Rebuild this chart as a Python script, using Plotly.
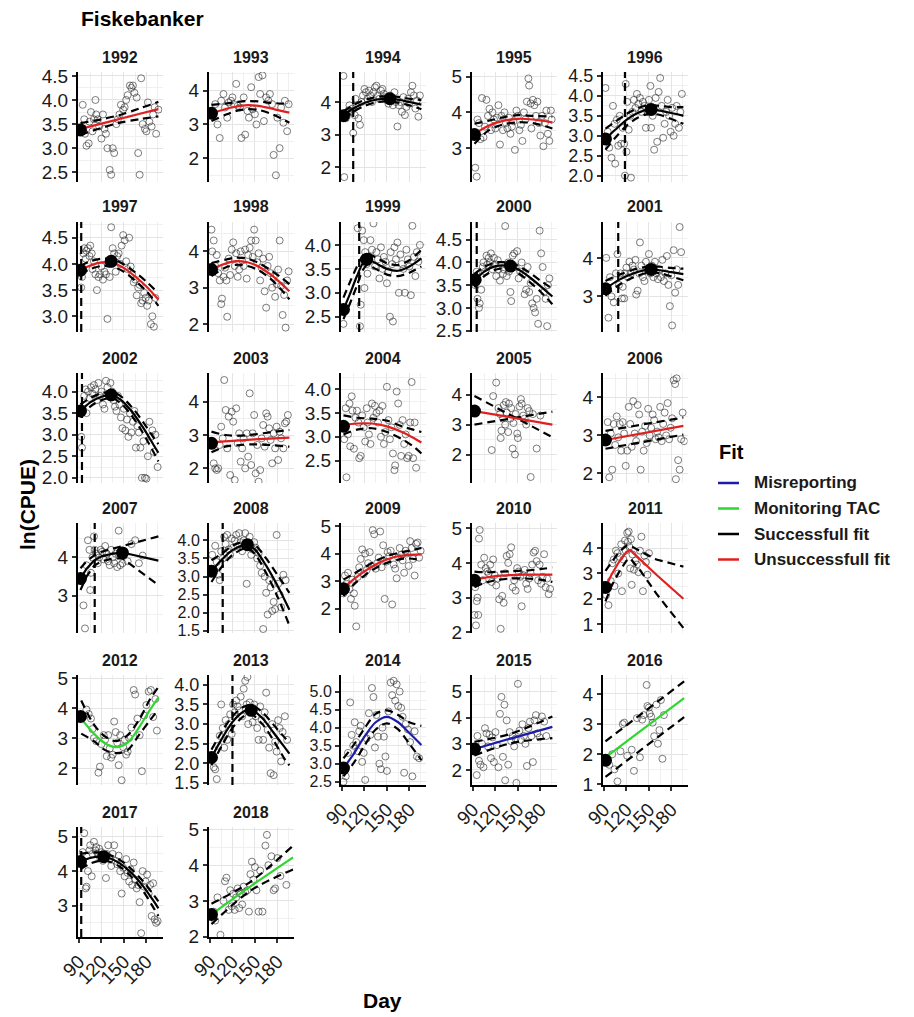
import math
import plotly.graph_objects as go

W, H = 914, 1017
FONT = "Liberation Sans, Arial, sans-serif"

# ---------------- data ----------------
years = list(range(1992, 2019))

fit_class = [
    "Unsuccessfull fit", "Unsuccessfull fit", "Successfull fit", "Unsuccessfull fit", "Successfull fit",
    "Unsuccessfull fit", "Unsuccessfull fit", "Successfull fit", "Successfull fit", "Successfull fit",
    "Successfull fit", "Unsuccessfull fit", "Unsuccessfull fit", "Unsuccessfull fit", "Unsuccessfull fit",
    "Successfull fit", "Successfull fit", "Unsuccessfull fit", "Unsuccessfull fit", "Unsuccessfull fit",
    "Monitoring TAC", "Successfull fit", "Misreporting", "Misreporting", "Monitoring TAC",
    "Successfull fit", "Monitoring TAC",
]

y_min = [2.30, 1.30, 1.55, 2.05, 1.84, 2.70, 1.78, 2.18, 2.47, 2.08, 1.88, 1.56, 2.03, 1.05, 1.75,
         2.03, 1.44, 1.11, 1.98, 0.65, 1.44, 1.45, 2.41, 1.42, 0.98, 2.09, 1.99]
y_max = [4.58, 4.55, 4.92, 5.13, 4.60, 4.80, 4.81, 4.48, 4.89, 4.93, 4.43, 4.86, 4.34, 4.72, 4.64,
         4.90, 4.48, 5.11, 5.15, 4.99, 5.10, 4.25, 5.46, 5.64, 4.63, 5.28, 5.07]
y_step = [0.5, 1, 1, 1, 0.5, 0.5, 1, 0.5, 0.5, 1, 0.5, 1, 0.5, 1, 1,
          1, 0.5, 1, 1, 1, 1, 0.5, 0.5, 1, 1, 1, 1]

# day of the vertical break line in a season
vline_day = {1994: 105, 1996: 118, 1997: 93, 1999: 113, 2000: 95, 2001: 109, 2002: 94,
             2007: 111, 2008: 107, 2013: 120, 2017: 93}

day_ticks = [90, 120, 150, 180]

fit_colors = {
    "Misreporting": "#1c1ca8",
    "Monitoring TAC": "#2ed62e",
    "Successfull fit": "#000000",
    "Unsuccessfull fit": "#e02020",
}
legend_order = ["Misreporting", "Monitoring TAC", "Successfull fit", "Unsuccessfull fit"]

# observations: (day, ln(CPUE))
pts_1992 = [(95,3.9),(97,3.6),(98,3.3),(100,3.05),(103,3.1),(104,3.55),(106,3.75),(108,3.35),(110,3.6),(112,4.0),
            (113,3.7),(115,3.6),(117,3.45),(120,3.2),(122,3.7),(124,3.4),(126,3.3),(128,3.0),(131,2.55),(133,2.45),
            (135,3.0),(137,2.9),(140,3.5),(142,3.6),(144,3.7),(146,3.9),(149,3.8),(151,3.85),(153,4.0),(155,4.1),
            (158,4.3),(160,4.25),(162,4.3),(164,4.15),(167,4.05),(169,2.9),(171,2.45),(173,4.45),(175,3.5),(178,3.4),
            (180,3.35),(182,3.95),(184,3.55),(187,3.45),(189,3.7),(191,3.85),(193,3.3),(196,3.8)]
pts_1993 = [(94,3.3),(97,3.6),(100,3.0),(103,2.6),(105,3.7),(108,3.9),(110,3.5),(113,3.2),(115,3.65),(118,3.7),
            (120,3.8),(122,3.6),(125,4.2),(127,3.55),(130,3.5),(132,2.6),(135,3.8),(137,2.7),(140,3.4),(142,3.2),
            (145,4.1),(147,3.45),(150,3.3),(152,3.0),(155,4.4),(157,3.9),(160,4.45),(162,3.1),(165,3.8),(168,3.7),
            (170,3.9),(173,3.6),(175,2.1),(178,1.5),(180,3.2),(183,2.3),(185,3.5),(188,3.05),(190,3.7),(193,2.8),(195,3.6)]
pts_1994 = [(92,4.8),(93,1.7),(95,3.5),(97,3.6),(99,3.75),(100,3.9),(102,3.7),(104,3.8),(105,3.05),(107,3.6),
            (108,4.1),(110,3.9),(112,3.5),(114,3.3),(116,4.0),(118,4.2),(120,4.4),(122,4.3),(124,4.1),(126,4.35),
            (128,4.2),(130,4.0),(132,4.3),(134,4.45),(136,4.5),(138,4.2),(140,4.1),(142,4.35),(144,4.4),(146,4.25),
            (148,4.15),(150,4.1),(152,3.95),(154,4.2),(156,4.05),(158,3.9),(160,4.3),(162,4.0),(164,3.25),(166,3.9),
            (168,4.0),(170,3.7),(172,4.15),(174,3.6),(176,3.85),(178,4.1),(180,3.95),(182,4.3),(184,4.5),(186,4.2),
            (188,3.8),(190,4.05),(192,3.55),(194,4.2)]
pts_1995 = [(93,2.45),(95,2.2),(96,3.8),(98,3.7),(100,3.25),(102,4.4),(104,3.3),(106,3.6),(108,4.35),(110,3.9),
            (112,4.1),(114,3.5),(116,4.0),(118,3.8),(120,3.55),(122,3.85),(124,4.2),(126,3.1),(128,3.9),(130,3.5),
            (132,4.0),(134,3.7),(136,3.55),(138,3.85),(140,3.4),(142,3.6),(144,3.75),(146,2.95),(148,4.05),(150,3.9),
            (152,3.5),(154,3.65),(156,3.2),(158,4.0),(160,3.8),(162,4.3),(164,4.95),(165,4.75),(167,4.25),(168,3.55),
            (170,4.35),(172,4.2),(174,3.9),(176,4.3),(178,3.7),(180,3.35),(182,3.9),(184,3.05),(186,3.7),(188,4.05),
            (190,3.4),(192,3.2),(194,4.05),(195,3.8)]
pts_1996 = [(92,4.2),(95,3.1),(97,2.7),(100,2.45),(102,3.75),(104,3.3),(105,2.3),(107,3.4),(109,2.75),(111,3.5),
            (113,2.8),(115,3.2),(117,2.8),(118,2.0),(119,4.3),(120,2.6),(121,3.85),(123,3.15),(125,3.5),(126,1.95),
            (128,3.6),(130,3.9),(132,3.7),(134,4.05),(136,3.8),(138,3.95),(140,3.6),(142,3.85),(144,3.75),(146,3.2),
            (148,3.6),(150,3.9),(152,4.25),(153,3.2),(155,3.5),(157,2.65),(159,3.95),(161,2.85),(163,4.1),(165,4.45),
            (167,3.75),(169,2.95),(171,3.3),(173,3.6),(175,3.9),(177,3.5),(179,3.1),(181,3.7),(183,3.0),(185,3.3),
            (187,3.75),(190,3.2),(192,3.6),(194,4.05)]
pts_1997 = [(93,3.55),(94,3.75),(96,4.2),(97,4.3),(99,4.1),(100,4.25),(102,4.3),(104,4.15),(105,4.35),(107,4.2),
            (108,3.9),(110,4.05),(112,3.8),(114,3.5),(116,3.75),(118,3.8),(120,3.95),(122,3.7),(124,3.85),(126,3.8),
            (128,2.95),(129,4.0),(131,3.75),(133,4.7),(135,4.3),(137,4.2),(139,3.85),(141,4.15),(143,4.2),(145,4.0),
            (147,4.35),(149,4.55),(151,4.45),(153,4.05),(155,3.9),(157,4.5),(159,3.95),(161,3.8),(163,3.65),(165,3.7),
            (167,3.4),(169,3.55),(171,3.6),(173,3.25),(175,3.3),(177,3.45),(179,3.35),(181,3.2),(183,3.3),(186,2.85),
            (188,3.0),(190,2.8),(192,3.35)]
pts_1998 = [(92,4.6),(93,4.0),(95,4.3),(97,3.6),(99,3.9),(101,3.4),(103,3.2),(105,2.55),(106,2.7),(108,3.3),
            (110,3.55),(112,3.2),(113,2.2),(115,3.8),(117,3.35),(119,4.05),(121,4.25),(123,3.6),(125,3.95),(127,3.3),
            (129,3.5),(131,4.0),(133,3.75),(135,3.6),(137,4.05),(139,3.25),(141,3.9),(143,4.1),(145,4.3),(147,3.85),
            (149,4.6),(151,4.3),(153,3.7),(155,3.95),(157,3.2),(159,3.55),(161,3.8),(163,2.9),(165,2.45),(167,3.6),
            (169,3.85),(171,3.4),(173,3.0),(175,3.3),(177,2.75),(179,3.1),(181,3.5),(183,4.3),(185,3.05),(187,2.25),
            (189,2.8),(191,1.9),(193,3.2),(195,3.45)]
pts_1999 = [(92,2.35),(111,4.35),(114,2.3),(115,2.75),(117,4.3),(119,4.1),(120,3.1),(121,3.85),(123,3.6),(124,3.4),
            (126,3.75),(128,4.1),(130,3.9),(132,4.45),(134,3.55),(136,3.85),(138,3.7),(140,3.3),(142,3.95),(144,3.5),
            (146,3.75),(148,3.65),(150,3.2),(152,3.45),(154,2.5),(155,3.85),(157,3.6),(158,2.4),(160,3.95),(162,3.7),
            (164,4.05),(166,3.0),(168,3.8),(170,3.6),(172,3.5),(174,3.0),(176,3.9),(178,3.7),(180,3.55),(182,2.95),
            (184,4.4),(186,3.75),(188,3.35),(190,3.85),(192,3.65),(194,4.0)]
pts_2000 = [(93,3.5),(95,3.8),(96,3.2),(98,3.0),(99,3.1),(101,3.4),(103,3.9),(104,4.0),(106,3.8),(108,4.15),
            (109,3.95),(111,4.1),(113,4.0),(114,4.2),(116,3.85),(118,4.1),(119,3.95),(121,3.7),(123,4.05),(124,3.85),
            (126,3.6),(128,3.95),(130,3.75),(131,3.85),(133,4.8),(135,3.7),(137,4.0),(138,3.8),(140,3.35),(141,3.15),
            (143,4.15),(145,4.2),(147,3.9),(149,4.25),(151,3.65),(153,3.8),(155,4.0),(157,3.75),(159,3.3),(161,3.4),
            (163,3.9),(165,3.35),(167,3.55),(169,3.1),(171,3.0),(173,2.9),(175,3.2),(177,2.65),(179,4.7),(181,4.2),
            (183,3.9),(185,3.35),(187,3.2),(189,2.6),(190,3.5),(192,3.65)]
pts_2001 = [(93,4.0),(96,2.45),(98,3.5),(100,3.0),(103,2.85),(106,3.6),(108,4.1),(110,3.3),(112,3.6),(114,2.95),
            (115,3.25),(117,2.95),(118,3.6),(120,3.75),(122,3.5),(124,3.9),(126,3.6),(128,3.8),(130,3.7),(132,3.95),
            (133,3.05),(135,3.15),(137,3.6),(138,4.4),(140,3.8),(142,3.5),(144,3.4),(146,3.9),(148,3.7),(150,4.1),
            (152,3.6),(154,3.8),(156,3.5),(158,3.9),(160,3.6),(162,3.45),(164,3.7),(166,3.5),(168,3.95),(170,3.4),
            (172,3.6),(174,4.05),(176,3.3),(178,2.75),(180,3.55),(181,2.25),(183,4.2),(185,3.1),(187,3.7),(189,3.3),
            (191,4.8),(193,4.15)]
pts_2002 = [(93,2.95),(94,2.7),(95,3.6),(97,3.9),(99,4.05),(100,3.5),(102,4.0),(104,3.85),(106,4.1),(108,3.95),
            (110,4.15),(112,4.05),(114,3.8),(116,4.2),(118,3.9),(120,4.0),(122,3.7),(124,3.6),(126,4.25),(128,4.1),
            (130,3.95),(132,4.2),(134,4.0),(136,3.8),(138,3.65),(140,3.55),(142,3.9),(144,3.7),(146,3.4),(148,3.15),
            (150,3.6),(152,3.1),(154,3.35),(156,2.95),(158,3.5),(160,3.05),(162,3.3),(164,3.55),(166,2.7),(168,3.2),
            (170,3.05),(172,2.7),(174,2.0),(176,2.85),(178,2.0),(180,1.98),(182,2.5),(184,3.3),(186,2.95),(188,3.1),
            (190,2.6),(192,3.0),(195,2.25)]
pts_2003 = [(95,2.15),(97,2.0),(99,1.95),(101,2.0),(103,2.7),(105,3.25),(107,2.9),(109,4.65),(111,3.75),(113,2.6),
            (115,3.55),(117,1.8),(119,3.7),(121,3.4),(123,1.65),(125,3.8),(127,2.75),(129,3.05),(131,2.2),(133,2.6),
            (135,2.9),(137,2.0),(139,3.05),(141,2.35),(143,4.25),(145,2.1),(147,3.05),(149,3.6),(151,1.85),(153,2.7),
            (155,1.6),(157,1.95),(159,2.9),(161,3.3),(163,2.65),(165,3.65),(167,3.55),(169,3.2),(171,2.85),(173,2.15),
            (175,3.05),(177,2.6),(179,3.25),(181,2.25),(183,3.1),(185,2.9),(188,2.6),(190,3.35),(192,3.4),(194,3.6)]
pts_2004 = [(93,2.95),(95,3.6),(96,2.15),(98,3.05),(100,3.7),(101,2.8),(103,3.85),(104,3.55),(106,2.75),(108,3.4),
            (110,3.55),(112,3.3),(113,2.55),(115,2.6),(117,3.45),(119,3.2),(121,2.9),(123,3.6),(124,3.3),(126,3.05),
            (128,2.85),(130,3.7),(132,3.4),(134,3.65),(136,3.5),(138,3.3),(140,3.55),(142,3.0),(144,3.65),(146,2.85),
            (148,3.1),(150,4.05),(152,3.35),(154,2.95),(156,3.2),(158,2.65),(160,2.3),(161,2.4),(163,3.95),(165,3.7),
            (167,3.25),(169,2.6),(171,3.35),(173,2.85),(175,3.05),(177,2.55),(179,2.6),(181,3.3),(183,4.15),(185,2.55),
            (187,3.3),(189,2.35)]
pts_2005 = [(115,2.15),(117,3.95),(121,4.4),(124,3.55),(126,3.35),(127,2.55),(128,2.8),(130,3.2),(131,3.65),(133,3.0),
            (134,3.75),(135,3.4),(137,2.75),(138,3.7),(140,3.2),(141,3.55),(143,2.2),(144,3.05),(146,2.0),(147,3.35),
            (149,2.7),(150,2.55),(152,3.6),(154,3.85),(155,3.7),(157,3.3),(159,3.2),(161,3.0),(163,3.55),(165,3.45),
            (167,1.25),(170,3.35),(175,2.2),(180,3.3)]
pts_2006 = [(95,3.35),(97,1.9),(99,3.05),(101,2.1),(103,3.3),(105,2.75),(107,3.5),(109,2.95),(111,3.3),(113,2.6),
            (115,3.35),(117,3.05),(119,2.2),(121,2.6),(123,3.75),(125,3.3),(127,2.7),(129,3.9),(131,3.05),(133,2.85),
            (135,3.8),(137,3.55),(139,2.1),(141,3.1),(143,2.6),(145,3.25),(147,2.8),(149,3.7),(151,3.0),(153,3.2),
            (155,3.55),(157,3.4),(159,2.9),(161,3.1),(163,2.95),(165,3.75),(167,2.85),(169,3.3),(171,3.6),(173,3.0),
            (175,3.85),(177,2.9),(179,3.2),(181,3.45),(183,4.45),(185,4.35),(186,1.85),(187,4.5),(189,2.35),(191,2.1),
            (193,2.9),(195,3.6),(197,2.85)]
pts_2007 = [(96,2.75),(98,2.15),(100,3.8),(102,4.45),(104,4.2),(105,3.15),(106,3.6),(108,4.0),(110,4.55),(111,4.2),
            (113,4.1),(115,3.85),(117,4.0),(119,4.2),(121,4.15),(123,3.95),(125,4.3),(127,4.1),(129,3.9),(131,3.8),
            (133,4.2),(135,4.0),(137,3.85),(139,4.1),(141,3.75),(143,4.7),(145,3.8),(148,3.85),(151,4.15),(155,3.9),
            (160,4.35),(165,4.45),(170,3.85),(175,4.05)]
pts_2008 = [(93,3.6),(95,3.2),(97,3.85),(99,3.4),(101,3.05),(103,2.9),(105,3.7),(107,3.5),(109,4.1),(111,3.9),
            (113,4.15),(115,3.75),(117,3.6),(119,4.05),(121,3.8),(123,4.0),(125,4.15),(127,3.85),(129,4.2),(131,3.95),
            (133,3.7),(135,4.0),(137,4.2),(139,2.8),(141,3.85),(143,4.1),(145,3.6),(147,3.75),(149,3.95),(151,3.8),
            (153,3.5),(155,3.65),(157,3.3),(159,3.1),(161,1.55),(163,3.0),(165,2.55),(167,1.95),(169,2.9),(171,2.7),
            (173,2.05),(175,2.3),(177,2.1),(179,4.15),(181,2.8),(183,2.5),(185,2.15),(188,3.05),(191,2.9)]
pts_2009 = [(92,2.55),(94,3.2),(96,2.9),(98,3.3),(100,2.7),(102,2.35),(104,3.05),(106,2.55),(107,2.1),(109,1.35),
            (111,3.15),(113,3.5),(115,3.8),(117,4.15),(119,3.25),(121,4.0),(123,3.4),(125,3.65),(127,4.05),(129,3.55),
            (131,4.85),(133,4.7),(135,3.45),(137,3.65),(139,3.85),(141,4.8),(143,3.5),(145,4.3),(147,2.35),(149,3.7),
            (151,4.05),(153,3.9),(155,4.1),(157,2.15),(159,3.6),(161,3.45),(163,3.1),(165,3.85),(167,4.2),(169,3.95),
            (171,3.75),(173,3.3),(175,4.1),(177,4.0),(179,3.55),(181,4.45),(183,4.2),(185,3.8),(187,3.2),(189,4.35),
            (191,4.4),(193,3.85),(195,4.1)]
pts_2010 = [(92,2.5),(93,3.3),(94,2.2),(95,2.9),(96,3.0),(97,2.5),(98,4.7),(99,4.95),(101,3.95),(103,3.5),
            (105,4.15),(107,3.85),(109,3.75),(111,3.7),(113,3.95),(115,3.45),(117,4.1),(119,3.65),(121,3.35),(123,3.55),
            (125,2.95),(127,2.1),(129,3.05),(131,2.85),(133,3.7),(135,4.2),(137,4.0),(139,4.25),(141,4.45),(143,3.3),
            (145,3.5),(147,3.2),(149,3.85),(151,3.75),(153,3.6),(155,2.75),(157,3.65),(159,3.8),(161,3.4),(163,3.25),
            (165,3.55),(167,3.7),(169,3.95),(171,4.3),(173,4.35),(175,4.05),(177,3.5),(179,3.95),(181,3.4),(183,3.6),
            (185,4.25),(187,3.3),(189,3.55),(191,3.1),(193,3.25)]
pts_2011 = [(93,2.15),(96,1.75),(99,2.7),(101,3.4),(103,3.55),(104,2.5),(106,3.9),(108,3.8),(109,3.0),(111,3.65),
            (113,4.15),(114,2.3),(116,3.55),(118,4.3),(119,3.9),(121,4.6),(122,4.25),(123,4.65),(124,4.05),(125,3.2),
            (126,4.35),(127,2.55),(128,3.75),(130,3.15),(132,3.5),(134,3.35),(136,3.05),(138,3.9),(140,4.45),(142,2.3),
            (144,3.7),(146,3.45),(148,2.95),(150,3.8)]
pts_2012 = [(100,3.95),(103,3.8),(106,3.65),(108,3.3),(110,3.0),(113,2.9),(116,1.85),(118,2.05),(120,2.8),(123,3.1),
            (125,2.95),(127,2.4),(129,3.1),(131,2.65),(133,2.35),(135,2.45),(137,3.55),(139,3.2),(141,2.85),(143,2.1),
            (145,3.1),(147,1.6),(149,2.7),(151,2.95),(153,2.45),(155,2.55),(157,3.0),(160,3.35),(163,4.6),(165,4.45),
            (168,3.65),(171,3.1),(174,1.9),(177,3.75),(180,4.1),(183,4.55),(186,4.6),(189,3.7),(192,4.3),(194,3.25)]
pts_2013 = [(93,2.2),(95,1.9),(97,1.85),(99,1.6),(101,2.45),(103,2.7),(105,3.5),(107,2.9),(109,2.4),(111,3.1),
            (113,2.6),(115,3.0),(117,3.25),(119,2.75),(121,3.5),(123,3.3),(125,3.6),(127,3.45),(129,3.35),(131,3.7),
            (133,3.2),(135,3.9),(137,4.1),(139,3.5),(140,4.2),(141,3.0),(143,3.55),(145,3.3),(147,3.05),(149,3.5),
            (151,3.2),(153,2.9),(155,2.6),(157,3.45),(159,3.1),(161,2.6),(163,3.3),(165,3.8),(167,2.85),(169,2.4),
            (171,1.75),(173,3.0),(175,1.7),(177,2.55),(179,2.3),(181,3.1),(183,2.9),(185,2.05),(187,2.8),(190,3.2),
            (193,2.6)]
pts_2014 = [(92,2.5),(95,2.65),(98,3.3),(101,4.7),(103,3.8),(105,3.5),(107,4.15),(109,3.6),(111,3.35),(113,3.9),
            (115,4.05),(117,3.05),(119,3.3),(121,2.55),(123,3.7),(126,4.4),(128,3.8),(130,5.1),(132,4.85),(134,3.45),
            (136,4.35),(138,3.75),(140,3.0),(142,2.85),(144,4.0),(146,3.75),(148,3.2),(150,2.8),(152,4.45),(155,5.25),
            (157,4.9),(159,5.3),(161,4.75),(163,5.2),(165,4.6),(167,5.0),(169,4.55),(171,4.3),(173,2.75),(175,4.1),
            (178,3.95),(181,3.6),(184,2.65),(187,3.9),(190,3.2),(193,3.15)]
pts_2015 = [(93,2.9),(95,1.8),(96,3.3),(98,2.35),(100,2.2),(102,3.0),(104,2.1),(106,3.6),(108,3.4),(110,2.9),
            (112,3.35),(114,2.45),(116,3.25),(118,2.3),(120,3.45),(122,2.95),(124,2.1),(126,4.15),(128,4.8),(130,2.5),
            (132,4.5),(133,1.6),(135,3.9),(137,2.2),(139,3.45),(141,3.1),(143,3.3),(145,2.9),(147,3.2),(148,1.5),
            (150,5.3),(152,3.5),(154,3.15),(156,3.75),(158,3.3),(160,3.0),(162,2.15),(164,3.6),(166,3.85),(168,3.3),
            (170,2.3),(172,3.9),(174,4.1),(176,3.4),(179,3.25),(182,4.05),(185,3.85),(188,3.3)]
pts_2016 = [(97,1.65),(101,2.0),(104,1.5),(108,1.1),(112,2.1),(115,3.0),(117,3.05),(121,1.95),(127,2.15),(130,1.45),
            (134,3.2),(138,1.9),(141,3.15),(143,3.3),(147,4.3),(148,3.6),(150,3.55),(151,3.35),(153,3.25),(155,3.05),
            (157,2.6),(160,3.65),(162,2.35),(164,2.8),(166,3.8),(168,1.85),(170,3.3)]
pts_2017 = [(93,4.3),(95,4.55),(97,5.1),(99,3.5),(100,3.55),(102,4.0),(104,4.6),(105,4.75),(107,3.85),(108,4.5),
            (110,4.85),(112,4.6),(113,4.7),(115,4.5),(117,4.65),(118,4.4),(120,4.55),(122,4.3),(124,4.45),(126,3.8),
            (127,4.5),(129,4.75),(131,4.35),(133,4.15),(135,4.5),(137,4.75),(139,4.3),(141,4.2),(143,4.45),(145,4.0),
            (147,3.35),(149,4.1),(151,3.85),(153,4.35),(155,3.95),(157,3.7),(159,4.05),(161,3.6),(163,4.25),(165,3.75),
            (167,3.5),(169,3.6),(171,3.1),(173,2.2),(175,4.0),(177,3.55),(179,3.7),(181,3.9),(183,3.35),(185,3.6),
            (187,2.7),(189,3.65),(191,2.6),(193,2.5),(195,2.55)]
pts_2018 = [(95,2.7),(97,2.45),(100,3.1),(104,2.05),(108,3.0),(110,3.55),(112,3.65),(115,2.75),(117,3.3),(119,2.85),
            (121,3.2),(123,2.75),(125,3.1),(127,3.35),(129,2.8),(131,3.2),(133,2.9),(135,3.4),(137,3.25),(140,3.3),
            (142,2.7),(144,3.75),(146,4.1),(148,3.6),(150,3.95),(152,3.3),(155,2.7),(157,3.85),(160,2.7),(164,4.55),
            (166,4.85),(168,4.0),(172,4.25),(175,3.3),(177,3.35),(180,4.2),(184,3.7),(192,3.45)]

# fitted curve with its two dashed bounds: (day, fit, lower, upper)
fit_1992 = [(92,3.40,3.28,3.52),(120,3.51,3.42,3.60),(145,3.61,3.53,3.69),(170,3.71,3.60,3.82),(196,3.81,3.66,3.96)]
fit_1993 = [(92,3.33,3.10,3.58),(110,3.45,3.28,3.62),(125,3.53,3.40,3.66),(140,3.57,3.45,3.69),(155,3.55,3.43,3.68),
            (170,3.48,3.33,3.64),(185,3.40,3.18,3.62),(196,3.35,3.05,3.62)]
fit_1994 = [(92,3.60,3.50,3.72),(105,3.80,3.70,3.90),(120,3.97,3.88,4.06),(135,4.07,3.99,4.15),(150,4.10,4.02,4.18),
            (165,4.07,3.98,4.16),(180,4.00,3.90,4.10),(196,3.92,3.78,4.06)]
fit_1995 = [(92,3.40,3.12,3.68),(110,3.62,3.48,3.76),(130,3.76,3.66,3.86),(150,3.82,3.72,3.92),(170,3.80,3.70,3.90),
            (196,3.72,3.55,3.88)]
fit_1996 = [(92,2.92,2.65,3.18),(105,3.15,2.95,3.35),(120,3.40,3.25,3.55),(135,3.57,3.45,3.69),(150,3.66,3.55,3.77),
            (165,3.63,3.52,3.75),(180,3.57,3.42,3.72),(196,3.50,3.30,3.72)]
fit_1997 = [(92,3.88,3.80,3.96),(105,3.97,3.90,4.05),(120,4.03,3.96,4.10),(135,4.02,3.95,4.09),(150,3.92,3.85,3.99),
            (165,3.76,3.68,3.84),(180,3.57,3.48,3.66),(196,3.32,3.20,3.44)]
fit_1998 = [(92,3.50,3.32,3.68),(110,3.66,3.55,3.77),(125,3.73,3.63,3.83),(140,3.70,3.60,3.80),(155,3.58,3.48,3.68),
            (170,3.38,3.26,3.50),(185,3.12,2.95,3.28),(196,2.90,2.68,3.10)]
fit_1999 = [(92,2.65,2.45,2.90),(100,2.95,2.75,3.20),(110,3.35,3.15,3.55),(118,3.62,3.48,3.78),(124,3.70,3.58,3.82),
            (135,3.62,3.50,3.74),(150,3.50,3.38,3.62),(165,3.46,3.35,3.58),(180,3.55,3.42,3.68),(196,3.72,3.55,3.90)]
fit_2000 = [(92,3.60,3.45,3.75),(105,3.80,3.70,3.90),(120,3.92,3.84,4.00),(135,3.93,3.86,4.00),(150,3.85,3.77,3.93),
            (165,3.68,3.58,3.78),(180,3.48,3.36,3.60),(196,3.25,3.08,3.42)]
fit_2001 = [(92,3.20,3.02,3.40),(110,3.43,3.30,3.56),(130,3.60,3.50,3.70),(150,3.70,3.62,3.78),(165,3.68,3.60,3.77),
            (180,3.63,3.52,3.74),(196,3.58,3.42,3.72)]
fit_2002 = [(92,3.55,3.40,3.70),(105,3.75,3.65,3.85),(120,3.88,3.80,3.96),(133,3.92,3.85,3.99),(145,3.82,3.74,3.90),
            (160,3.55,3.45,3.65),(175,3.18,3.05,3.31),(190,2.75,2.58,2.92),(196,2.58,2.38,2.78)]
fit_2003 = [(92,2.78,2.48,3.10),(110,2.81,2.65,3.00),(130,2.84,2.70,2.98),(150,2.87,2.72,3.02),(170,2.89,2.70,3.08),
            (196,2.92,2.65,3.15)]
fit_2004 = [(92,3.25,3.05,3.45),(110,3.28,3.15,3.40),(130,3.28,3.18,3.38),(150,3.22,3.10,3.34),(170,3.10,2.95,3.22),
            (185,2.98,2.80,3.15),(196,2.88,2.65,3.10)]
fit_2005 = [(92,3.45,3.00,3.95),(196,3.00,3.43,2.58)]
fit_2006 = [(92,2.88,2.65,3.12),(196,3.25,3.02,3.47)]
fit_2007 = [(92,3.45,3.15,3.72),(100,3.70,3.50,3.90),(110,3.92,3.78,4.05),(120,4.03,3.90,4.15),(135,4.10,3.97,4.23),
            (148,4.13,3.98,4.30),(196,3.92,3.28,4.55)]
fit_2008 = [(92,3.15,2.85,3.45),(105,3.45,3.25,3.62),(120,3.73,3.60,3.85),(135,3.87,3.77,3.97),(140,3.88,3.78,3.98),
            (150,3.75,3.62,3.88),(165,3.30,3.10,3.50),(180,2.75,2.45,3.05),(196,2.08,1.65,2.55)]
fit_2009 = [(92,2.75,2.45,3.05),(105,3.05,2.85,3.25),(120,3.35,3.20,3.50),(135,3.60,3.47,3.73),(150,3.78,3.66,3.90),
            (165,3.90,3.78,4.02),(180,3.95,3.82,4.10),(196,3.97,3.75,4.20)]
fit_2010 = [(92,3.52,3.30,3.75),(105,3.57,3.42,3.73),(120,3.62,3.50,3.74),(140,3.65,3.55,3.76),(160,3.66,3.55,3.78),
            (180,3.66,3.52,3.82),(196,3.66,3.45,3.87)]
fit_2011 = [(92,2.45,1.90,3.10),(100,2.95,2.50,3.45),(110,3.45,3.05,3.85),(120,3.85,3.50,4.10),(125,3.92,3.60,4.10),
            (140,3.50,3.05,3.85),(160,2.95,2.20,3.55),(196,2.00,0.85,3.27)]
fit_2012 = [(93,3.65,3.15,4.25),(110,3.15,2.90,3.45),(125,2.82,2.60,3.05),(140,2.70,2.50,2.90),(155,2.85,2.60,3.10),
            (170,3.35,3.10,3.60),(185,3.95,3.60,4.30),(196,4.35,3.95,4.70)]
fit_2013 = [(92,2.15,1.95,2.35),(105,2.60,2.42,2.78),(120,3.05,2.90,3.20),(135,3.32,3.20,3.44),(145,3.37,3.25,3.49),
            (160,3.15,3.00,3.30),(175,2.78,2.58,2.98),(190,2.40,2.10,2.65),(196,2.25,1.95,2.52)]
fit_2014 = [(92,2.88,2.65,3.15),(105,3.25,3.00,3.50),(120,3.75,3.50,3.98),(135,4.15,3.95,4.38),(150,4.30,4.12,4.48),
            (165,4.15,3.95,4.35),(180,3.85,3.55,4.15),(196,3.52,3.10,4.05)]
fit_2015 = [(92,2.80,2.55,3.08),(140,3.20,3.02,3.38),(196,3.65,3.22,4.05)]
fit_2016 = [(92,1.90,1.25,2.43),(197,3.86,3.23,4.42)]
fit_2017 = [(92,4.27,4.05,4.50),(105,4.38,4.22,4.54),(118,4.42,4.30,4.54),(130,4.38,4.28,4.48),(145,4.22,4.12,4.32),
            (160,3.95,3.84,4.06),(175,3.58,3.44,3.72),(190,3.12,2.92,3.30),(196,2.92,2.70,3.12)]
fit_2018 = [(92,2.62,2.35,2.92),(145,3.42,3.30,3.55),(201,4.22,3.88,4.55)]

# season start and (where found) peak: (day, ln(CPUE))
dots_1992 = [(92, 3.38)]
dots_1993 = [(92, 3.33)]
dots_1994 = [(92, 3.58), (154, 4.10)]
dots_1995 = [(92, 3.38)]
dots_1996 = [(92, 2.92), (153, 3.66)]
dots_1997 = [(92, 3.88), (133, 4.05)]
dots_1998 = [(92, 3.50)]
dots_1999 = [(92, 2.65), (123, 3.70)]
dots_2000 = [(93, 3.62), (140, 3.92)]
dots_2001 = [(92, 3.20), (153, 3.70)]
dots_2002 = [(92, 3.55), (133, 3.92)]
dots_2003 = [(92, 2.75)]
dots_2004 = [(92, 3.22)]
dots_2005 = [(92, 3.45)]
dots_2006 = [(92, 2.88)]
dots_2007 = [(92, 3.45), (148, 4.12)]
dots_2008 = [(92, 3.15), (140, 3.88)]
dots_2009 = [(92, 2.72)]
dots_2010 = [(92, 3.50)]
dots_2011 = [(92, 2.45)]
dots_2012 = [(92, 3.72)]
dots_2013 = [(92, 2.15), (145, 3.35)]
dots_2014 = [(92, 2.88)]
dots_2015 = [(92, 2.80)]
dots_2016 = [(92, 1.80)]
dots_2017 = [(92, 4.28), (123, 4.42)]
dots_2018 = [(92, 2.62)]

# ---------------- layout geometry (pixels) ----------------
col_left = [78, 209, 341, 472, 603]
row_top = [72, 222, 373, 523, 675, 827]
panel_w, panel_h = 84.5, 110
x_range = [88.7, 201.5]
bottom_panels = {2014, 2015, 2016, 2017, 2018}
kinked = {2007, 2011}

GRID = "#e4e4e4"
GRID_MINOR = "#f0f0f0"
TICK_SIZE = 19
DASH = "8px,5px"

fig = go.Figure()
layout = dict(
    template="none",
    width=W, height=H, margin=dict(l=0, r=0, t=0, b=0, autoexpand=False),
    paper_bgcolor="white", plot_bgcolor="white", showlegend=False,
    font=dict(family=FONT, color="#1a1a1a"),
)
annotations, shapes = [], []

for i, yr in enumerate(years):
    n = i + 1
    sfx = "" if n == 1 else str(n)
    xa, ya = "x" + sfx, "y" + sfx
    r, c = divmod(i, 5)
    left, top = col_left[c], row_top[r]
    bottom = yr in bottom_panels
    color = fit_colors[fit_class[i]]

    pts = globals()[f"pts_{yr}"]
    fit = globals()[f"fit_{yr}"]
    dots = globals()[f"dots_{yr}"]
    shape = "linear" if yr in kinked else "spline"

    fig.add_trace(go.Scatter(
        x=[p[0] for p in pts], y=[p[1] for p in pts], mode="markers", xaxis=xa, yaxis=ya,
        marker=dict(symbol="circle-open", size=7, color="rgba(40,40,40,0.6)", line=dict(width=1)),
        hoverinfo="skip"))
    for k in (2, 3):
        fig.add_trace(go.Scatter(
            x=[f[0] for f in fit], y=[f[k] for f in fit], mode="lines", xaxis=xa, yaxis=ya,
            line=dict(color="black", width=2.2, dash=DASH, shape=shape, smoothing=0.9),
            hoverinfo="skip"))
    fig.add_trace(go.Scatter(
        x=[f[0] for f in fit], y=[f[1] for f in fit], mode="lines", xaxis=xa, yaxis=ya,
        line=dict(color=color, width=2.2, shape=shape, smoothing=0.9), name=fit_class[i]))
    fig.add_trace(go.Scatter(
        x=[d[0] for d in dots], y=[d[1] for d in dots], mode="markers", xaxis=xa, yaxis=ya,
        marker=dict(size=13, color="black"), hoverinfo="skip"))

    if yr in vline_day:
        shapes.append(dict(type="line", xref=xa, yref=f"{ya} domain", x0=vline_day[yr], x1=vline_day[yr],
                           y0=0, y1=1, line=dict(color="black", width=2.2, dash=DASH)))

    # shrink y tick labels a little where the ticks sit close together
    tick_gap = panel_h * y_step[i] / (y_max[i] - y_min[i])
    ysize = min(TICK_SIZE, math.floor(tick_gap - 1.5))

    layout["xaxis" + sfx] = dict(
        domain=[left / W, (left + panel_w) / W], range=x_range, anchor=ya, automargin=False,
        tickmode="array", tickvals=day_ticks, ticktext=[str(t) for t in day_ticks],
        showgrid=True, gridcolor=GRID, gridwidth=1,
        minor=dict(tickmode="array", tickvals=[105, 135, 165, 195], showgrid=True,
                   gridcolor=GRID_MINOR, gridwidth=1),
        zeroline=False, showticklabels=bottom, showline=bottom, linecolor="black", linewidth=2,
        ticks="outside" if bottom else "", ticklen=4, tickwidth=1.5, tickcolor="#333",
        tickangle=-45, tickfont=dict(size=TICK_SIZE, family=FONT, color="#1a1a1a"),
    )
    layout["yaxis" + sfx] = dict(
        domain=[1 - (top + panel_h) / H, 1 - top / H], range=[y_min[i], y_max[i]], anchor=xa,
        automargin=False, tick0=0, dtick=y_step[i], tickformat=".1f" if y_step[i] < 1 else "d",
        showgrid=True, gridcolor=GRID, gridwidth=1,
        minor=dict(dtick=y_step[i] / 2, showgrid=True, gridcolor=GRID_MINOR, gridwidth=1),
        zeroline=False, showline=True, linecolor="black", linewidth=2,
        ticks="outside", ticklen=4, tickwidth=1.5, tickcolor="#333",
        tickfont=dict(size=ysize, family=FONT, color="#1a1a1a"),
    )
    annotations.append(dict(
        text=f"<b>{yr}</b>", xref=f"{xa} domain", yref=f"{ya} domain", x=0.5, y=1,
        xanchor="center", yanchor="middle", yshift=15, showarrow=False,
        font=dict(size=16, family=FONT, color="#1a1a1a")))

# titles
annotations.append(dict(text="<b>Fiskebanker</b>", xref="paper", yref="paper", x=79 / W, y=1 - 18 / H,
                        xanchor="left", yanchor="middle", showarrow=False,
                        font=dict(size=21, family=FONT, color="black")))
annotations.append(dict(text="<b>ln(CPUE)</b>", xref="paper", yref="paper", x=27 / W, y=1 - 505 / H,
                        xanchor="center", yanchor="middle", textangle=-90, showarrow=False,
                        font=dict(size=21, family=FONT, color="black")))
annotations.append(dict(text="<b>Day</b>", xref="paper", yref="paper", x=382 / W, y=1 - 1000 / H,
                        xanchor="center", yanchor="middle", showarrow=False,
                        font=dict(size=21, family=FONT, color="black")))

# legend
annotations.append(dict(text="<b>Fit</b>", xref="paper", yref="paper", x=717 / W, y=1 - 452 / H,
                        xanchor="left", yanchor="middle", showarrow=False,
                        font=dict(size=20, family=FONT, color="black")))
for j, name in enumerate(legend_order):
    yy = 1 - (483 + 25.5 * j) / H
    shapes.append(dict(type="line", xref="paper", yref="paper", x0=718 / W, x1=739 / W, y0=yy, y1=yy,
                       line=dict(color=fit_colors[name], width=2.5)))
    annotations.append(dict(text=f"<b>{name}</b>", xref="paper", yref="paper", x=752 / W, y=yy,
                            xanchor="left", yanchor="middle", showarrow=False,
                            font=dict(size=17, family=FONT, color="#1a1a1a")))

layout["annotations"] = annotations
layout["shapes"] = shapes
fig.update_layout(**layout)
fig.write_html("out.html")
